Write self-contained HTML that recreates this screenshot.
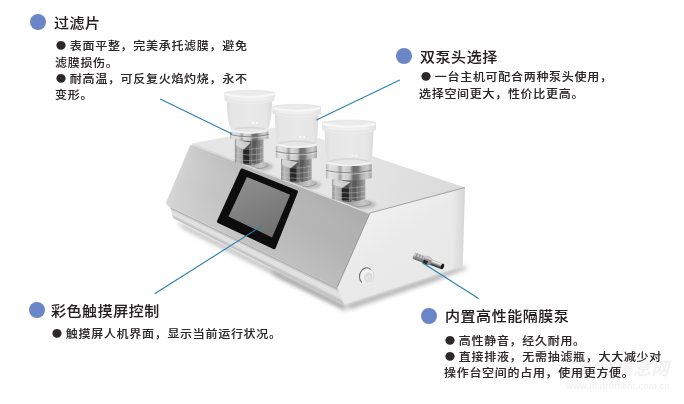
<!DOCTYPE html>
<html lang="zh-CN">
<head>
<meta charset="utf-8">
<title>产品特点</title>
<style>
html,body{margin:0;padding:0;background:#fff;}
body{width:684px;height:404px;overflow:hidden;position:relative;font-family:"Liberation Sans","Noto Sans CJK SC",sans-serif;color:#231f20;}
#stage{position:absolute;left:0;top:0;width:684px;height:404px;overflow:hidden;background:#fff;}
#txt{position:absolute;left:0;top:0;width:684px;height:404px;will-change:transform;text-shadow:0 0 0.5px rgba(35,31,32,0.3);}
svg{position:absolute;left:0;top:0;}
.dot{position:absolute;width:16px;height:16px;border-radius:50%;background:#6b86c6;}
.t{position:absolute;white-space:nowrap;font-size:15px;line-height:20px;height:20px;letter-spacing:0.55px;color:#231f20;font-weight:500;transform:rotate(0.01deg) scaleY(0.94);transform-origin:0 50%;}
.b{position:absolute;white-space:nowrap;font-size:12px;line-height:16px;height:16px;letter-spacing:0.7px;color:#2c2829;font-weight:500;transform:rotate(0.01deg) scaleY(0.94);transform-origin:0 50%;}
.b i{font-style:normal;font-family:"Liberation Sans","Noto Sans CJK SC",sans-serif;display:inline-block;width:15.4px;letter-spacing:0;font-size:21.5px;line-height:10px;vertical-align:-1px;margin-left:-1.6px;text-shadow:none;}
.wm{position:absolute;white-space:nowrap;color:#f2f2f2;text-shadow:none;}
</style>
</head>
<body>
<div id="stage">
<svg id="art" width="684" height="404" viewBox="0 0 684 404">

<defs>
<linearGradient id="frontG" x1="172" y1="176" x2="350" y2="250" gradientUnits="userSpaceOnUse">
 <stop offset="0" stop-color="#d8d8d8"/><stop offset="0.07" stop-color="#cecece"/><stop offset="0.2" stop-color="#c6c6c6"/><stop offset="0.5" stop-color="#bababa"/><stop offset="1" stop-color="#b1b1b1"/>
</linearGradient>
<linearGradient id="frontV" x1="290" y1="180" x2="262" y2="252" gradientUnits="userSpaceOnUse">
 <stop offset="0" stop-color="#000" stop-opacity="0.035"/><stop offset="0.5" stop-color="#fff" stop-opacity="0"/><stop offset="1" stop-color="#fff" stop-opacity="0.14"/>
</linearGradient>
<linearGradient id="topG" x1="200" y1="140" x2="460" y2="195" gradientUnits="userSpaceOnUse">
 <stop offset="0" stop-color="#e5e5e5"/><stop offset="0.35" stop-color="#e8e8e8"/><stop offset="0.7" stop-color="#e2e2e2"/><stop offset="1" stop-color="#dadada"/>
</linearGradient>
<linearGradient id="sideG" x1="380" y1="215" x2="440" y2="300" gradientUnits="userSpaceOnUse">
 <stop offset="0" stop-color="#efefef"/><stop offset="0.3" stop-color="#eaeaea"/><stop offset="0.85" stop-color="#e8e8e8"/><stop offset="1" stop-color="#e0e0e0"/>
</linearGradient>
<linearGradient id="sideR" x1="452" y1="0" x2="465" y2="0" gradientUnits="userSpaceOnUse">
 <stop offset="0" stop-color="#d0d0d0" stop-opacity="0"/><stop offset="1" stop-color="#cfcfcf" stop-opacity="0.75"/>
</linearGradient>
<linearGradient id="screenG" x1="247" y1="178" x2="272" y2="238" gradientUnits="userSpaceOnUse">
 <stop offset="0" stop-color="#8e8e8e"/><stop offset="1" stop-color="#707070"/>
</linearGradient>
<linearGradient id="cupBody" x1="0" y1="0" x2="1" y2="0">
 <stop offset="0" stop-color="#dcdcdc"/><stop offset="0.1" stop-color="#e5e5e5"/><stop offset="0.5" stop-color="#e9e9e9"/><stop offset="0.85" stop-color="#e6e6e6"/><stop offset="1" stop-color="#dbdbdb"/>
</linearGradient>
<linearGradient id="cupRim" x1="0" y1="0" x2="1" y2="0">
 <stop offset="0" stop-color="#e2e2e2"/><stop offset="0.15" stop-color="#eeeeee"/><stop offset="0.8" stop-color="#efefef"/><stop offset="1" stop-color="#e2e2e2"/>
</linearGradient>
<linearGradient id="stemH" x1="0" y1="0" x2="1" y2="0">
 <stop offset="0" stop-color="#8a8a8a"/><stop offset="0.1" stop-color="#bebebe"/><stop offset="0.27" stop-color="#a0a0a0"/><stop offset="0.34" stop-color="#505050"/><stop offset="0.54" stop-color="#585858"/><stop offset="0.62" stop-color="#909090"/><stop offset="0.72" stop-color="#5e5e5e"/><stop offset="0.86" stop-color="#7e7e7e"/><stop offset="1" stop-color="#a8a8a8"/>
</linearGradient>
<linearGradient id="flangeH" x1="0" y1="0" x2="1" y2="0">
 <stop offset="0" stop-color="#b8b8b8"/><stop offset="0.08" stop-color="#e2e2e2"/><stop offset="0.24" stop-color="#d8d8d8"/><stop offset="0.31" stop-color="#a0a0a0"/><stop offset="0.38" stop-color="#dadada"/><stop offset="0.52" stop-color="#c4c4c4"/><stop offset="0.6" stop-color="#6a6a6a"/><stop offset="0.7" stop-color="#747474"/><stop offset="0.78" stop-color="#b0b0b0"/><stop offset="0.9" stop-color="#cccccc"/><stop offset="1" stop-color="#a4a4a4"/>
</linearGradient>
<linearGradient id="baseH" x1="0" y1="0" x2="1" y2="0">
 <stop offset="0" stop-color="#c0c0c0"/><stop offset="0.5" stop-color="#a0a0a0"/><stop offset="0.8" stop-color="#c8c8c8"/><stop offset="1" stop-color="#b0b0b0"/>
</linearGradient>
<linearGradient id="nozG" x1="0" y1="0" x2="0" y2="1">
 <stop offset="0" stop-color="#b4b4b4"/><stop offset="0.3" stop-color="#d2d2d2"/><stop offset="0.6" stop-color="#9a9a9a"/><stop offset="1" stop-color="#666666"/>
</linearGradient>
<linearGradient id="nozT" x1="0" y1="0" x2="0" y2="1">
 <stop offset="0" stop-color="#b0b0b0"/><stop offset="0.22" stop-color="#f2f2f2"/><stop offset="0.5" stop-color="#9c9c9c"/><stop offset="0.8" stop-color="#3c3c3c"/><stop offset="1" stop-color="#5a5a5a"/>
</linearGradient>
<radialGradient id="btnG" cx="0.55" cy="0.5" r="0.55">
 <stop offset="0" stop-color="#f2f2f2"/><stop offset="0.55" stop-color="#e9e9e9"/><stop offset="0.75" stop-color="#c8c8c8"/><stop offset="1" stop-color="#dcdcdc"/>
</radialGradient>
<filter id="soft" x="-5%" y="-5%" width="110%" height="110%"><feGaussianBlur stdDeviation="0.5"/></filter>
<filter id="sh" x="-20%" y="-60%" width="140%" height="220%"><feGaussianBlur stdDeviation="2.6"/></filter>
<filter id="sh1" x="-30%" y="-60%" width="160%" height="220%"><feGaussianBlur stdDeviation="1.6"/></filter>
<filter id="sh2" x="-20%" y="-50%" width="140%" height="200%"><feGaussianBlur stdDeviation="2.2"/></filter>
<clipPath id="topClip"><path d="M191.5,143.5 L283,126 L465,187.5 L370,213 Z"/></clipPath>
</defs>

<path d="M176,221 L343.8,304.8 L347,311.5 L184,229 Z" fill="#808080" opacity="0.58" filter="url(#sh2)"/>
<path d="M270,268 L343.8,304.8 L346,310 L276,277 Z" fill="#707070" opacity="0.35" filter="url(#sh2)"/>
<path d="M344,304.8 L462.8,266 L468,268 L436,281 L350,309.5 Z" fill="#8a8a8a" opacity="0.62" filter="url(#sh2)"/>
<g filter="url(#soft)">
<path d="M191.5,143.5 L283,126 L465,187.5 L370,213 Z" fill="url(#topG)"/>
<g clip-path="url(#topClip)">
<ellipse cx="252.8" cy="166.6" rx="20.4" ry="5" fill="#909090" opacity="0.5" filter="url(#sh1)"/>
<ellipse cx="250.3" cy="164.8" rx="18.4" ry="4.2" fill="url(#baseH)"/>
<path d="M231.9,164.8 A18.4,4.2 0 0 0 268.7,164.8" fill="none" stroke="#868686" stroke-width="0.9" opacity="0.7"/>
<ellipse cx="299.6" cy="184.8" rx="21.6" ry="5" fill="#909090" opacity="0.5" filter="url(#sh1)"/>
<ellipse cx="297.1" cy="183.0" rx="19.6" ry="4.2" fill="url(#baseH)"/>
<path d="M277.5,183.0 A19.6,4.2 0 0 0 316.7,183.0" fill="none" stroke="#868686" stroke-width="0.9" opacity="0.7"/>
<ellipse cx="352.6" cy="204.6" rx="23.4" ry="5" fill="#909090" opacity="0.5" filter="url(#sh1)"/>
<ellipse cx="350.1" cy="202.8" rx="21.4" ry="4.2" fill="url(#baseH)"/>
<path d="M328.7,202.8 A21.4,4.2 0 0 0 371.5,202.8" fill="none" stroke="#868686" stroke-width="0.9" opacity="0.7"/>
</g>
<path d="M370,213 L465,187.5 L462.7,265.6 L343.8,304.3 L337.1,287.5 Z" fill="url(#sideG)"/>
<path d="M370,213 L465,187.5 L462.7,265.6 L343.8,304.3 L337.1,287.5 Z" fill="url(#sideR)"/>
<path d="M170.2,207.0 L337.1,287.5 L343.8,304.3 L173.4,218.2 Z" fill="#dedede"/>
<path d="M170.2,207.0 L337.1,287.5 L338.2,290.2 L170.7,208.8 Z" fill="#b2b2b2"/>
<path d="M170.7,208.8 L338.2,290.2 L338.8,291.9 L171.0,209.9 Z" fill="#cccccc"/>
<path d="M171.0,209.9 L338.8,291.9 L341.8,299.3 L172.4,214.8 Z" fill="#e1e1e1"/>
<path d="M172.4,214.8 L341.8,299.3 L342.6,301.3 L172.8,216.2 Z" fill="#d0d0d0"/>
<path d="M172.8,216.2 L342.6,301.3 L343.8,304.3 L173.4,218.2 Z" fill="#c2c2c2"/>
<path d="M195.5,144.8 Q191.2,143 189.4,147 L166.4,201.6 Q165.2,204.6 168.2,206 L337.1,287.5 L370,213 Z" fill="url(#frontG)"/>
<path d="M195.5,144.8 Q191.2,143 189.4,147 L166.4,201.6 Q165.2,204.6 168.2,206 L337.1,287.5 L370,213 Z" fill="url(#frontV)"/>
<path d="M192.5,144.6 L369.5,213.4" stroke="#dedede" stroke-width="1.5" fill="none" opacity="0.95"/>
<path d="M370,213 L465,187.5" stroke="#8a8a8a" stroke-width="0.9" fill="none" opacity="0.85"/>
<path d="M370,213 L337.1,287.5" stroke="#8a8a8a" stroke-width="1" fill="none" opacity="0.8"/>
<path d="M242.6,168.6 L296.8,190.2 Q298.4,190.9 297.8,192.4 L275.6,248.2 Q274.9,249.8 273.4,249.1 L218,223 Q216.4,222.2 217.1,220.7 L240.6,169.3 Q241.2,168 242.6,168.6 Z" fill="#0b0b0b"/>
<path d="M246.9,176.9 L290.2,194.8 L272.1,237.6 L228.5,216.5 Z" fill="url(#screenG)"/>
<g transform="rotate(16 367.2 276.6)"><ellipse cx="367.2" cy="276.6" rx="6.4" ry="8" fill="#f1f1f1"/><path d="M363.2,283.4 A6.4,8 0 0 1 368.4,268.7" fill="none" stroke="#6e6e6e" stroke-width="1.1" stroke-linecap="round"/><path d="M368.4,268.7 A6.4,8 0 0 1 372.6,281" fill="none" stroke="#d4d4d4" stroke-width="0.8"/><ellipse cx="368.4" cy="277.2" rx="4.2" ry="5.4" fill="#dcdcdc"/><ellipse cx="368.6" cy="277.2" rx="2.6" ry="3.6" fill="#e2e2e2"/></g>
<g transform="translate(414,255.7) rotate(20.5)"><rect x="-0.5" y="-3.3" width="11.5" height="6.8" rx="1.6" fill="url(#nozG)"/><rect x="2" y="-3.3" width="1" height="6.8" fill="#6e6e6e" opacity="0.7"/><rect x="5" y="-3.3" width="1" height="6.8" fill="#6e6e6e" opacity="0.7"/><rect x="8" y="-3.3" width="1" height="6.8" fill="#6e6e6e" opacity="0.7"/><rect x="16" y="-2.7" width="14.5" height="5.8" rx="1" fill="url(#nozT)"/><path d="M10.5,-3.9 L15,-4.6 L18.5,-2.9 L18.5,3.3 L15,4.4 L10.5,4.2 Z" fill="#8e8e8e"/><path d="M10.5,0.2 L15,0.2 L15,4.4 L10.5,4.2 Z" fill="#2c2c2c"/><path d="M10.5,-3.9 L15,-4.6 L18.5,-2.9 L18.5,-1.4 L10.5,-1.6 Z" fill="#c9c9c9"/><ellipse cx="30.4" cy="0.2" rx="1.6" ry="2.9" fill="#161616"/></g>
<path d="M234.9,136.9 L234.9,162.1 Q249.2,167.9 263.5,162.1 L263.5,136.9 Z" fill="url(#stemH)"/>
<rect x="242.9" y="148.0" width="6.6" height="15.1" fill="#242424" opacity="0.9"/>
<rect x="252.1" y="139.9" width="3.4" height="23.1" fill="#555555" opacity="0.85"/>
<path d="M235.9,139.9 L250.9,142.4 L243.8,149.4 L235.9,145.6 Z" fill="#d8d8d8" opacity="0.9"/>
<path d="M234.9,147.3 Q249.2,151.1 263.5,147.3" fill="none" stroke="#c8c8c8" stroke-width="0.8" opacity="0.55"/>
<path d="M234.9,153.0 Q249.2,156.8 263.5,153.0" fill="none" stroke="#c8c8c8" stroke-width="0.8" opacity="0.55"/>
<path d="M234.9,158.7 Q249.2,162.5 263.5,158.7" fill="none" stroke="#c8c8c8" stroke-width="0.8" opacity="0.55"/>
<line x1="242.9" y1="146.1" x2="242.9" y2="164.5" stroke="#c4c4c4" stroke-width="0.7" opacity="0.45"/>
<line x1="249.8" y1="146.1" x2="249.8" y2="164.5" stroke="#c4c4c4" stroke-width="0.7" opacity="0.45"/>
<line x1="256.3" y1="146.1" x2="256.3" y2="164.5" stroke="#c4c4c4" stroke-width="0.7" opacity="0.45"/>
<line x1="260.4" y1="146.1" x2="260.4" y2="164.5" stroke="#c4c4c4" stroke-width="0.7" opacity="0.45"/>
<path d="M226.9,99.4 C227.2,116.7 228.5,126.2 232.1,130.8 Q232.7,133.4 236.1,134.6 Q249.5,137.2 262.9,134.6 Q266.3,133.4 266.9,130.8 C270.5,126.2 271.8,116.7 272.1,99.4 Z" fill="url(#cupBody)"/>
<ellipse cx="249.5" cy="129.6" rx="16.2" ry="3.0" fill="#d8d8d8"/>
<ellipse cx="249.5" cy="130.5" rx="14.4" ry="2.1" fill="#e6e6e6"/>
<path d="M232.3,130.0 Q249.5,135.8 266.7,130.0" fill="none" stroke="#f4f4f4" stroke-width="1.6"/>
<path d="M224.3,93.0 A25.2,3.2 0 0 1 274.7,93.0 L274.7,98.6 Q274.7,101.6 271.3,102.0 Q249.5,106.0 227.7,102.0 Q224.3,101.6 224.3,98.6 Z" fill="url(#cupRim)"/>
<ellipse cx="249.5" cy="93.5" rx="23.8" ry="2.7" fill="#ebebeb" stroke="#e3e3e3" stroke-width="0.6"/>
<path d="M225.1,94.2 Q249.5,99.6 273.9,94.2" fill="none" stroke="#f6f6f6" stroke-width="2.4"/>
<path d="M225.5,100.0 Q249.5,104.8 273.5,100.0" fill="none" stroke="#e7e7e7" stroke-width="1.6"/>
<rect x="252.1" y="121.8" width="2" height="2" fill="#fafafa"/><rect x="255.9" y="121.8" width="2" height="2" fill="#fafafa"/>
<path d="M229.9,131.6 Q249.2,136.2 268.5,131.6 L268.5,138.6 Q249.2,143.2 229.9,138.6 Z" fill="url(#flangeH)"/>
<path d="M229.9,134.5 Q249.2,139.1 268.5,134.5" fill="none" stroke="#7c7c7c" stroke-width="1.1" opacity="0.8"/>
<path d="M229.9,135.8 Q249.2,140.4 268.5,135.8" fill="none" stroke="#e6e6e6" stroke-width="0.9" opacity="0.6"/>
<path d="M281.1,156.4 L281.1,179.6 Q296.4,185.4 311.7,179.6 L311.7,156.4 Z" fill="url(#stemH)"/>
<rect x="289.7" y="166.9" width="7.0" height="13.8" fill="#242424" opacity="0.9"/>
<rect x="299.5" y="159.4" width="3.7" height="21.2" fill="#555555" opacity="0.85"/>
<path d="M282.1,159.4 L298.2,161.9 L290.6,168.2 L282.1,164.7 Z" fill="#d8d8d8" opacity="0.9"/>
<path d="M281.1,166.1 Q296.4,169.9 311.7,166.1" fill="none" stroke="#c8c8c8" stroke-width="0.8" opacity="0.55"/>
<path d="M281.1,171.3 Q296.4,175.1 311.7,171.3" fill="none" stroke="#c8c8c8" stroke-width="0.8" opacity="0.55"/>
<path d="M281.1,176.5 Q296.4,180.3 311.7,176.5" fill="none" stroke="#c8c8c8" stroke-width="0.8" opacity="0.55"/>
<line x1="289.7" y1="165.2" x2="289.7" y2="182.0" stroke="#c4c4c4" stroke-width="0.7" opacity="0.45"/>
<line x1="297.0" y1="165.2" x2="297.0" y2="182.0" stroke="#c4c4c4" stroke-width="0.7" opacity="0.45"/>
<line x1="304.0" y1="165.2" x2="304.0" y2="182.0" stroke="#c4c4c4" stroke-width="0.7" opacity="0.45"/>
<line x1="308.3" y1="165.2" x2="308.3" y2="182.0" stroke="#c4c4c4" stroke-width="0.7" opacity="0.45"/>
<path d="M274.9,112.6 C275.2,130.4 276.5,140.3 277.3,145.2 Q277.9,147.8 281.3,149.0 Q296.7,151.6 312.1,149.0 Q315.5,147.8 316.1,145.2 C316.9,140.3 318.2,130.4 318.5,112.6 Z" fill="url(#cupBody)"/>
<ellipse cx="296.7" cy="143.9" rx="18.2" ry="3.6" fill="#d8d8d8"/>
<ellipse cx="296.7" cy="144.8" rx="16.4" ry="2.7" fill="#e6e6e6"/>
<path d="M277.5,144.4 Q296.7,150.2 315.9,144.4" fill="none" stroke="#f4f4f4" stroke-width="1.6"/>
<path d="M272.4,107.0 A24.3,3.2 0 0 1 321.0,107.0 L321.0,111.8 Q321.0,114.8 317.6,115.2 Q296.7,119.2 275.8,115.2 Q272.4,114.8 272.4,111.8 Z" fill="url(#cupRim)"/>
<ellipse cx="296.7" cy="107.5" rx="22.9" ry="2.7" fill="#ebebeb" stroke="#e3e3e3" stroke-width="0.6"/>
<path d="M273.2,108.2 Q296.7,113.6 320.2,108.2" fill="none" stroke="#f6f6f6" stroke-width="2.4"/>
<path d="M273.6,113.2 Q296.7,118.0 319.8,113.2" fill="none" stroke="#e7e7e7" stroke-width="1.6"/>
<rect x="299.3" y="136.2" width="2" height="2" fill="#fafafa"/><rect x="303.1" y="136.2" width="2" height="2" fill="#fafafa"/>
<path d="M275.8,146.0 Q296.4,150.6 317.0,146.0 L317.0,158.1 Q296.4,162.7 275.8,158.1 Z" fill="url(#flangeH)"/>
<path d="M275.8,151.5 Q296.4,156.1 317.0,151.5" fill="none" stroke="#7c7c7c" stroke-width="1.1" opacity="0.8"/>
<path d="M275.8,152.8 Q296.4,157.3 317.0,152.8" fill="none" stroke="#e6e6e6" stroke-width="0.9" opacity="0.6"/>
<path d="M332.3,176.6 L332.3,199.0 Q348.8,204.8 365.3,199.0 L365.3,176.6 Z" fill="url(#stemH)"/>
<rect x="341.5" y="186.8" width="7.6" height="13.3" fill="#242424" opacity="0.9"/>
<rect x="352.1" y="179.6" width="4.0" height="20.4" fill="#555555" opacity="0.85"/>
<path d="M333.3,179.6 L350.8,182.1 L342.5,188.1 L333.3,184.8 Z" fill="#d8d8d8" opacity="0.9"/>
<path d="M332.3,186.1 Q348.8,189.9 365.3,186.1" fill="none" stroke="#c8c8c8" stroke-width="0.8" opacity="0.55"/>
<path d="M332.3,191.1 Q348.8,194.9 365.3,191.1" fill="none" stroke="#c8c8c8" stroke-width="0.8" opacity="0.55"/>
<path d="M332.3,196.1 Q348.8,199.9 365.3,196.1" fill="none" stroke="#c8c8c8" stroke-width="0.8" opacity="0.55"/>
<line x1="341.5" y1="185.2" x2="341.5" y2="201.4" stroke="#c4c4c4" stroke-width="0.7" opacity="0.45"/>
<line x1="349.5" y1="185.2" x2="349.5" y2="201.4" stroke="#c4c4c4" stroke-width="0.7" opacity="0.45"/>
<line x1="357.1" y1="185.2" x2="357.1" y2="201.4" stroke="#c4c4c4" stroke-width="0.7" opacity="0.45"/>
<line x1="361.7" y1="185.2" x2="361.7" y2="201.4" stroke="#c4c4c4" stroke-width="0.7" opacity="0.45"/>
<path d="M324.7,129.0 C325.0,147.8 326.3,158.2 327.3,163.6 Q327.9,166.2 331.3,167.4 Q349.1,170.0 366.9,167.4 Q370.3,166.2 370.9,163.6 C371.9,158.2 373.2,147.8 373.5,129.0 Z" fill="url(#cupBody)"/>
<ellipse cx="349.1" cy="162.4" rx="20.6" ry="4.4" fill="#d8d8d8"/>
<ellipse cx="349.1" cy="163.3" rx="18.8" ry="3.5" fill="#e6e6e6"/>
<path d="M327.5,162.8 Q349.1,168.6 370.7,162.8" fill="none" stroke="#f4f4f4" stroke-width="1.6"/>
<path d="M322.1,122.8 A27.0,3.2 0 0 1 376.1,122.8 L376.1,128.2 Q376.1,131.2 372.7,131.6 Q349.1,135.6 325.5,131.6 Q322.1,131.2 322.1,128.2 Z" fill="url(#cupRim)"/>
<ellipse cx="349.1" cy="123.3" rx="25.6" ry="2.7" fill="#ebebeb" stroke="#e3e3e3" stroke-width="0.6"/>
<path d="M322.9,124.0 Q349.1,129.4 375.3,124.0" fill="none" stroke="#f6f6f6" stroke-width="2.4"/>
<path d="M323.3,129.6 Q349.1,134.4 374.9,129.6" fill="none" stroke="#e7e7e7" stroke-width="1.6"/>
<rect x="351.7" y="154.6" width="2" height="2" fill="#fafafa"/><rect x="355.5" y="154.6" width="2" height="2" fill="#fafafa"/>
<path d="M325.9,164.0 Q348.8,168.6 371.7,164.0 L371.7,178.3 Q348.8,182.9 325.9,178.3 Z" fill="url(#flangeH)"/>
<path d="M325.9,170.5 Q348.8,175.1 371.7,170.5" fill="none" stroke="#7c7c7c" stroke-width="1.1" opacity="0.8"/>
<path d="M325.9,171.8 Q348.8,176.4 371.7,171.8" fill="none" stroke="#e6e6e6" stroke-width="0.9" opacity="0.6"/>
</g>
<g stroke="#2a82b0" stroke-width="1.15" fill="none" stroke-linecap="butt">
<line x1="160.2" y1="98.9" x2="232.1" y2="134"/>
<line x1="316.4" y1="120" x2="399.8" y2="80.1"/>
<line x1="154.6" y1="293.8" x2="261.4" y2="226.2"/>
<line x1="423.2" y1="263.3" x2="478.5" y2="298.6"/>
</g>
</svg>
<div id="txt">
<div class="wm" style="left:579px;top:358px;font-size:18px;line-height:22px;font-weight:700;font-style:italic;letter-spacing:0">仪器信息网</div>
<div class="wm" style="left:566px;top:380px;font-size:9px;line-height:12px;font-weight:700;letter-spacing:0">www.instrument.com.cn</div>
<div class="dot" style="left:29.5px;top:14.3px"></div>
<div class="t" style="left:54.3px;top:13px">过滤片</div>
<div class="b" style="left:56.3px;top:38px"><i>●</i>表面平整，完美承托滤膜，避免</div>
<div class="b" style="left:55.3px;top:55px">滤膜损伤。</div>
<div class="b" style="left:56.3px;top:71px"><i>●</i>耐高温，可反复火焰灼烧，永不</div>
<div class="b" style="left:55.3px;top:87px">变形。</div>

<div class="dot" style="left:396px;top:48.2px"></div>
<div class="t" style="left:419.5px;top:47px">双泵头选择</div>
<div class="b" style="left:420.8px;top:69px"><i>●</i>一台主机可配合两种泵头使用，</div>
<div class="b" style="left:419.1px;top:86px">选择空间更大，性价比更高。</div>

<div class="dot" style="left:29.2px;top:301.8px"></div>
<div class="t" style="left:51.2px;top:301px">彩色触摸屏控制</div>
<div class="b" style="left:51.5px;top:326px"><i>●</i>触摸屏人机界面，显示当前运行状况。</div>

<div class="dot" style="left:421.2px;top:307.7px"></div>
<div class="t" style="left:444.9px;top:306px">内置高性能隔膜泵</div>
<div class="b" style="left:444.8px;top:333px"><i>●</i>高性静音，经久耐用。</div>
<div class="b" style="left:444.8px;top:349px"><i>●</i>直接排液，无需抽滤瓶，大大减少对</div>
<div class="b" style="left:443.9px;top:365px">操作台空间的占用，使用更方便。</div>

</div>
</div>
</body>
</html>
